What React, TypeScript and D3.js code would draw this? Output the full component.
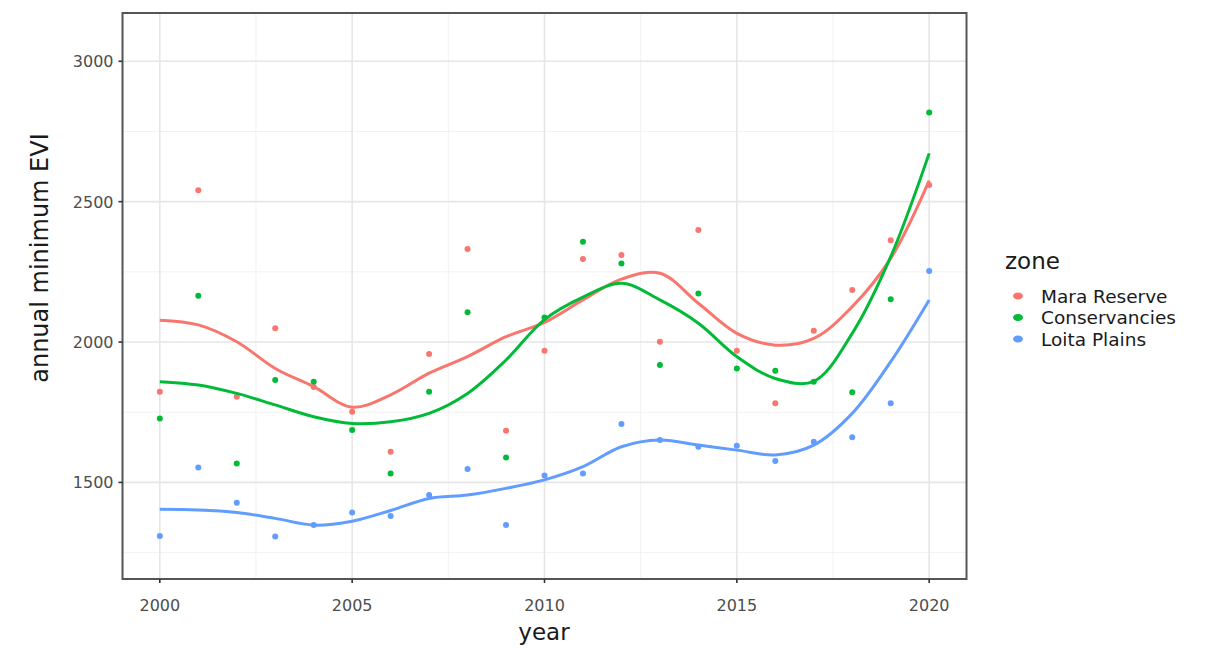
import React from "react";
import * as d3 from "d3";

const years = d3.range(2000, 2021);
const zones = ["Mara Reserve", "Conservancies", "Loita Plains"];
const colors = ["#F8766D", "#00BA38", "#619CFF"];

const maraPoints = [1823, 2541, 1805, 2049, 1840, 1752, 1609, 1957, 2331, 1684, 1969, 2296, 2310, 2001, 2399, 1969, 1782, 2040, 2185, 2363, 2559];
const consPoints = [1728, 2165, 1567, 1865, 1859, 1687, 1532, 1823, 2106, 1589, 2087, 2357, 2280, 1918, 2173, 1906, 1898, 1859, 1821, 2152, 2818];
const loitaPoints = [1309, 1553, 1428, 1307, 1348, 1393, 1380, 1455, 1548, 1348, 1525, 1532, 1708, 1651, 1627, 1631, 1576, 1645, 1661, 1782, 2253];

const maraSmooth = [2078, 2061, 2001, 1906, 1841, 1768, 1812, 1889, 1948, 2019, 2070, 2150, 2224, 2245, 2138, 2031, 1989, 2013, 2126, 2298, 2575];
const consSmooth = [1859, 1847, 1817, 1776, 1734, 1710, 1716, 1746, 1817, 1936, 2080, 2160, 2209, 2150, 2067, 1948, 1870, 1860, 2031, 2304, 2672];
const loitaSmooth = [1404, 1402, 1393, 1372, 1348, 1362, 1400, 1443, 1455, 1479, 1509, 1556, 1627, 1651, 1633, 1615, 1598, 1633, 1746, 1930, 2150];

const xTicks = [2000, 2005, 2010, 2015, 2020];
const xMinor = [2002.5, 2007.5, 2012.5, 2017.5];
const yTicks = [1500, 2000, 2500, 3000];
const yMinor = [1250, 1750, 2250, 2750];

const pointSeries = [maraPoints, consPoints, loitaPoints];
const smoothSeries = [maraSmooth, consSmooth, loitaSmooth];

const FONT = "'DejaVu Sans', Arial, sans-serif";

export default function App() {
  const W = 1218, H = 650;
  const pL = 122.5, pR = 966.5, pT = 13, pB = 579;
  const x = d3.scaleLinear().domain([1999.03, 2020.97]).range([pL, pR]);
  const y = d3.scaleLinear().domain([1156, 3172]).range([pB, pT]);
  const line = d3
    .line<number>()
    .x((_, i) => x(years[i]))
    .y((d) => y(d))
    .curve(d3.curveCatmullRom.alpha(0.5));

  return (
    <svg width={W} height={H} style={{ position: "absolute", left: 0, top: 0 }} fontFamily={FONT}>
      <rect x={0} y={0} width={W} height={H} fill="#fff" />
      {/* grid */}
      {xMinor.map((v) => (
        <line key={"xm" + v} x1={x(v)} x2={x(v)} y1={pT} y2={pB} stroke="#f2f2f2" strokeWidth={1} />
      ))}
      {yMinor.map((v) => (
        <line key={"ym" + v} x1={pL} x2={pR} y1={y(v)} y2={y(v)} stroke="#f2f2f2" strokeWidth={1} />
      ))}
      {xTicks.map((v) => (
        <line key={"xg" + v} x1={x(v)} x2={x(v)} y1={pT} y2={pB} stroke="#e6e6e6" strokeWidth={1.6} />
      ))}
      {yTicks.map((v) => (
        <line key={"yg" + v} x1={pL} x2={pR} y1={y(v)} y2={y(v)} stroke="#e6e6e6" strokeWidth={1.6} />
      ))}
      {/* points */}
      {pointSeries.map((s, si) =>
        s.map((v, i) => (
          <circle key={si + "-" + i} cx={x(years[i])} cy={y(v)} r={3} fill={colors[si]} />
        ))
      )}
      {/* smooth lines */}
      {smoothSeries.map((s, si) => (
        <path key={"l" + si} d={line(s) || ""} fill="none" stroke={colors[si]} strokeWidth={3} />
      ))}
      {/* panel border */}
      <rect x={pL} y={pT} width={pR - pL} height={pB - pT} fill="none" stroke="#555" strokeWidth={2} />
      {/* x axis */}
      {xTicks.map((v) => (
        <g key={"xt" + v}>
          <line x1={x(v)} x2={x(v)} y1={pB} y2={pB + 4} stroke="#333" strokeWidth={1.6} />
          <text x={x(v)} y={pB + 32} textAnchor="middle" fontSize={16} fill="#4d4d4d">
            {v}
          </text>
        </g>
      ))}
      {/* y axis */}
      {yTicks.map((v) => (
        <g key={"yt" + v}>
          <line x1={pL - 4} x2={pL} y1={y(v)} y2={y(v)} stroke="#333" strokeWidth={1.6} />
          <text x={pL - 9} y={y(v) + 6} textAnchor="end" fontSize={16} fill="#4d4d4d">
            {v}
          </text>
        </g>
      ))}
      <text x={544} y={640} textAnchor="middle" fontSize={23} fill="#1a1a1a">
        year
      </text>
      <text
        transform={`translate(48, 258) rotate(-90)`}
        textAnchor="middle"
        fontSize={24}
        fill="#1a1a1a"
      >
        annual minimum EVI
      </text>
      {/* legend */}
      <text x={1005} y={269} fontSize={23} fill="#1a1a1a">
        zone
      </text>
      {zones.map((z, i) => (
        <g key={z}>
          <ellipse cx={1018} cy={296 + i * 21.5} rx={5} ry={3.5} fill={colors[i]} />
          <text x={1041} y={302.5 + i * 21.5} fontSize={18.5} fill="#1a1a1a">
            {z}
          </text>
        </g>
      ))}
    </svg>
  );
}
